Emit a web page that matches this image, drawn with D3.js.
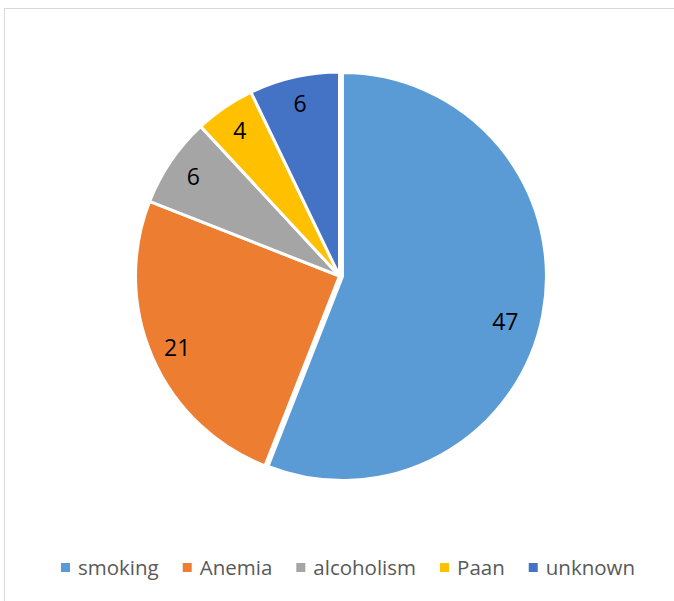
<!DOCTYPE html>
<html>
<head>
<meta charset="utf-8">
<script src="https://cdn.jsdelivr.net/npm/d3@7"></script>
<style>
  body { margin: 0; background: #fff; }
  svg { display: block; }
</style>
</head>
<body>
<svg id="chart" width="674" height="601"></svg>
<script>
// Data
const categories = ['smoking', 'Anemia', 'alcoholism', 'Paan', 'unknown'];
const values = [47, 21, 6, 4, 6];
const colors = ['#5B9BD5', '#ED7D31', '#A5A5A5', '#FFC000', '#4472C4'];

// Layout
const CENTER = [339.5, 276];
const RADIUS = 204;
const LABEL_RADIUS = 177;
const EXPLODE = 3; // the big slice is pulled out a little

const svg = d3.select('#chart');

// Chart area border (right/bottom edges fall outside the picture)
svg.append('rect')
  .attr('x', 4.5)
  .attr('y', 8.5)
  .attr('width', 700)
  .attr('height', 700)
  .attr('fill', 'none')
  .attr('stroke', '#d9d9d9')
  .attr('stroke-width', 1);

const pie = d3.pie()
  .sort(null)
  .value((d) => d.value);

const slices = pie(categories.map((c, i) => ({ name: c, value: values[i], color: colors[i] })));

const arc = d3.arc()
  .innerRadius(0)
  .outerRadius(RADIUS);

// Offset along a slice's mid angle
function offset(d, dist) {
  const a = (d.startAngle + d.endAngle) / 2;
  return [Math.sin(a) * dist, -Math.cos(a) * dist];
}

const g = svg.append('g')
  .attr('transform', `translate(${CENTER[0]},${CENTER[1]})`);

const slice = g.selectAll('g.slice')
  .data(slices)
  .join('g')
  .attr('class', 'slice')
  .attr('transform', (d, i) => {
    const [dx, dy] = i === 0 ? offset(d, EXPLODE) : [0, 0];
    return `translate(${dx},${dy})`;
  });

slice.append('path')
  .attr('d', arc)
  .attr('fill', (d) => d.data.color)
  .attr('stroke', '#fff')
  .attr('stroke-width', 3)
  .attr('stroke-linejoin', 'miter');

// Small nudge for the big slice's label (Excel's best-fit placement)
const LABEL_NUDGE = { smoking: [-11, 12] };

slice.append('text')
  .attr('transform', (d) => {
    const [x, y] = offset(d, LABEL_RADIUS);
    const n = LABEL_NUDGE[d.data.name] || [0, 0];
    return `translate(${x + n[0]},${y + n[1]})`;
  })
  .attr('text-anchor', 'middle')
  .attr('dominant-baseline', 'central')
  .attr('font-family', '"Open Sans", "Noto Sans", sans-serif')
  .attr('font-size', 23)
  .attr('fill', '#000')
  .text((d) => d.data.value);

// Legend along the bottom, centred
const legend = svg.append('g');
const items = legend.selectAll('g.item')
  .data(categories)
  .join('g')
  .attr('class', 'item');

items.append('rect')
  .attr('width', 9)
  .attr('height', 9)
  .attr('y', 563)
  .attr('fill', (d, i) => colors[i]);

items.append('text')
  .attr('y', 574.5)
  .attr('x', 17)
  .attr('font-family', '"Open Sans", "Noto Sans", sans-serif')
  .attr('font-size', 20.5)
  .attr('fill', '#595959')
  .text((d) => d);

let x = 0;
items.each(function() {
  const w = d3.select(this).select('text').node().getComputedTextLength();
  d3.select(this).attr('transform', `translate(${x},0)`);
  x += 17 + w + 24;
});
const total = x - 24;
legend.attr('transform', `translate(${348 - total / 2},0)`);
</script>
</body>
</html>
